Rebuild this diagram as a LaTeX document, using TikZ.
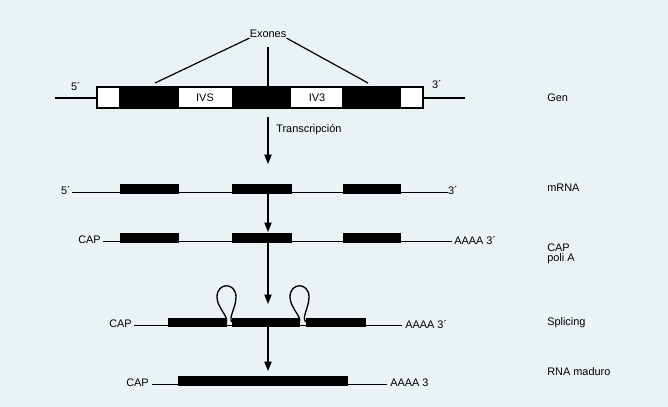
\documentclass[tikz,border=0pt]{standalone}
\usepackage{fontspec}
\setmainfont{Liberation Sans}
\usetikzlibrary{arrows.meta}
\definecolor{paper}{HTML}{EAF2F4}
\tikzset{
  px/.style={x=0.75pt,y=-0.75pt},
  lbl/.style={font=\fontsize{8.2}{9}\selectfont, inner sep=0pt},
  strand/.style={line width=1pt},
  exon/.style={fill=black, draw=black},
  intron/.style={fill=white, draw=black, line width=1.1pt},
  flow/.style={line width=0.9pt, -{Triangle[length=7pt,width=5.5pt]}},
  guide/.style={line width=0.9pt},
  loopline/.style={line width=1pt},
}
\begin{document}
\begin{tikzpicture}[px]
\fill[paper] (0,0) rectangle (668,407);
\useasboundingbox (0,0) rectangle (668,407);

% ---------- Gene ----------
\draw[strand] (55,98) -- (465,98);
\draw[intron] (97,87) rectangle (120,108);
\fill[exon] (120,87) rectangle (178,108);
\draw[intron] (178,87) rectangle (233,108);
\fill[exon] (233,87) rectangle (290,108);
\draw[intron] (290,87) rectangle (343,108);
\fill[exon] (343,87) rectangle (400,108);
\draw[intron] (400,87) rectangle (423,108);
\draw[line width=1.1pt] (97,87) rectangle (423,108);
\node[lbl] (ivsA) at (205,97.5) {IVS};
\node[lbl] (ivsB) at (317,97.5) {IV3};
\node[lbl] (g5) at (76,87) {5´};
\node[lbl] (g3) at (437,85) {3´};
\node[lbl, anchor=west] (genlab) at (547,98) {Gen};

% exon callout
\node[lbl] (exones) at (268,34) {Exones};
\coordinate (exA) at (155,83);
\coordinate (exB) at (268,87);
\coordinate (exC) at (368,83);
\coordinate (exTop) at (268,47);
\draw[guide] (exones.south west) -- (exA);
\draw[guide] (exones.south east) -- (exC);
\draw[guide] (exTop) -- (exB);

% ---------- mRNA ----------
\draw[strand] (72,192.5) -- (448,192.5);
\fill[exon] (120,184) rectangle (178,193);
\fill[exon] (232,184) rectangle (291,193);
\fill[exon] (343,184) rectangle (400,193);
\node[lbl] (m5) at (66,191) {5´};
\node[lbl] (m3) at (453,191) {3´};
\node[lbl, anchor=west] (mlab) at (547,188) {mRNA};

% ---------- CAP + poly A ----------
\draw[strand] (103,241.5) -- (452,241.5);
\fill[exon] (120,233) rectangle (178,242);
\fill[exon] (232,233) rectangle (291,242);
\fill[exon] (343,233) rectangle (400,242);
\node[lbl, anchor=east] (c5) at (101,240) {CAP};
\node[lbl, anchor=west] (c3) at (454,241) {AAAA 3´};
\node[lbl, anchor=west, align=left] (clab) at (547,254) {CAP\\[-1.5pt]poli A};

% ---------- Splicing ----------
\draw[strand] (134,325.5) -- (402,325.5);
\fill[exon] (168,318) rectangle (226,326);
\fill[exon] (232,318) rectangle (299,326);
\fill[exon] (306,318) rectangle (365,326);
\draw[loopline] (226,322) .. controls (230,318) and (217,308) .. (217,297)
  .. controls (217,282) and (236,282) .. (236,297)
  .. controls (236,308) and (228,318) .. (232,322);
\draw[loopline] (299,322) .. controls (303,318) and (290,308) .. (290,297)
  .. controls (290,282) and (309,282) .. (309,297)
  .. controls (309,308) and (301,318) .. (306,322);
\node[lbl, anchor=east] (s5) at (132,324) {CAP};
\node[lbl, anchor=west] (s3) at (405,325) {AAAA 3´};
\node[lbl, anchor=west] (slab) at (547,323) {Splicing};

% ---------- Mature RNA ----------
\draw[strand] (152,384.5) -- (387,384.5);
\fill[exon] (178,376) rectangle (347,385);
\node[lbl, anchor=east] (r5) at (149,383) {CAP};
\node[lbl, anchor=west] (r3) at (390,383) {AAAA 3};
\node[lbl, anchor=west] (rlab) at (547,372) {RNA maduro};

% ---------- Process arrows ----------
\coordinate (a1s) at (268,117);
\coordinate (a1e) at (268,164);
\coordinate (a2s) at (268,194);
\coordinate (a2e) at (268,232);
\coordinate (a3s) at (268,243);
\coordinate (a3e) at (268,304);
\coordinate (a4s) at (268,327);
\coordinate (a4e) at (268,371);
\draw[flow] (a1s) -- (a1e);
\draw[flow] (a2s) -- (a2e);
\draw[flow] (a3s) -- (a3e);
\draw[flow] (a4s) -- (a4e);
\node[lbl, anchor=west] (transc) at (276,130) {Transcripción};
\end{tikzpicture}
\end{document}
